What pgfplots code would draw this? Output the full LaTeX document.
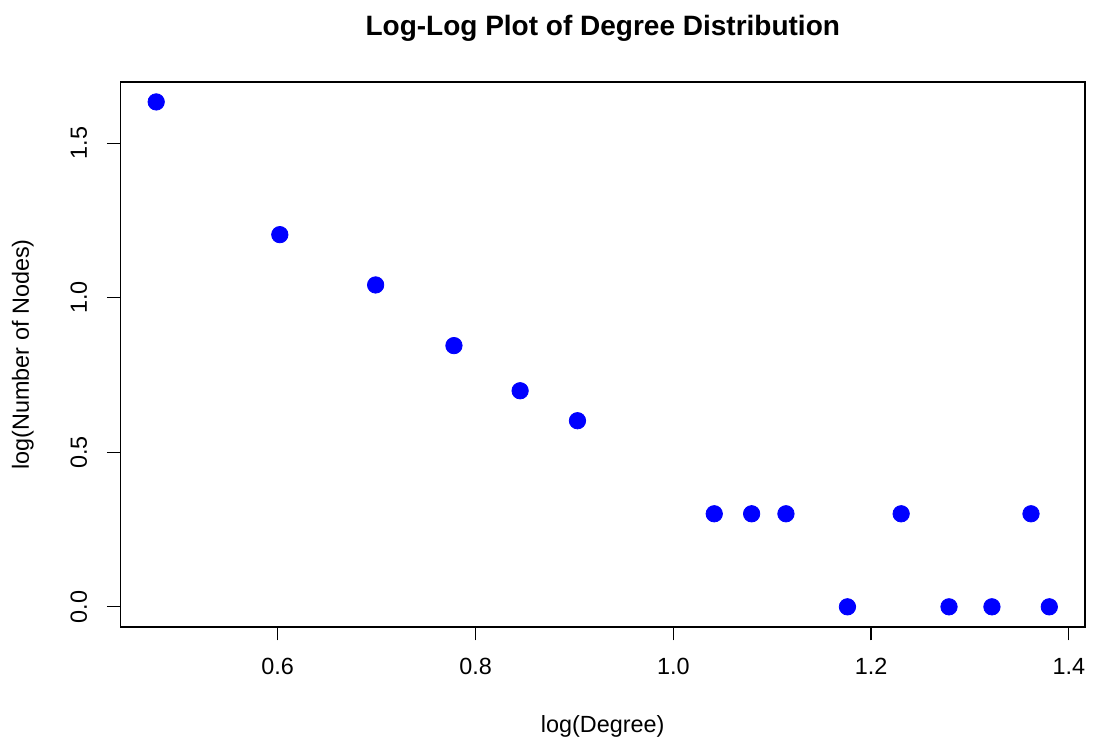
\documentclass[border=0pt]{standalone}
\usepackage{pgfplots}
\pgfplotsset{compat=1.18}
\usepackage{fontspec}
\setmainfont{Liberation Sans}
\begin{document}
\begin{tikzpicture}
\useasboundingbox (-60.25pt,-58.5pt) rectangle (486.75pt,313.5pt);
\begin{axis}[
  at={(0,0)}, anchor=south west,
  scale only axis, width=482.25pt, height=272.5pt,
  xmin=0.441, xmax=1.4163, ymin=-0.0653, ymax=1.698,
  axis line style={black, line width=0.6pt},
  tick style={black, line width=0.6pt},
  tick align=outside, major tick length=6.75pt,
  xtick pos=left, ytick pos=left,
  xtick={0.6,0.8,1.0,1.2,1.4},
  ytick={0,0.5,1.0,1.5},
  /pgf/number format/assume math mode=true,
  /pgf/number format/fixed, /pgf/number format/fixed zerofill,
  /pgf/number format/precision=1,
  ticklabel style={font=\fontsize{11.7}{14}\selectfont},
  xticklabel style={anchor=base, yshift=-17pt},
  yticklabel style={xshift=-10pt, rotate=90, anchor=base},
  clip=false,
]
\addplot[only marks, mark=*, mark size=4.1pt, blue, mark options={fill=blue, draw=blue}] coordinates {
  (0.4771,1.6335) (0.6021,1.2041) (0.6990,1.0414) (0.7782,0.8451)
  (0.8451,0.6990) (0.9031,0.6021) (1.0414,0.3010) (1.0792,0.3010)
  (1.1139,0.3010) (1.1761,0) (1.2304,0.3010) (1.2788,0)
  (1.3222,0) (1.3617,0.3010) (1.3802,0)
};
\node[anchor=base, font=\bfseries\fontsize{14}{17}\selectfont, yshift=23pt] at (rel axis cs:0.5,1) {Log-Log Plot of Degree Distribution};
\node[anchor=base, font=\fontsize{11.7}{14}\selectfont, yshift=-53pt] at (rel axis cs:0.5,0) {log(Degree)};
\node[xshift=-45.75pt, rotate=90, anchor=base, font=\fontsize{11.7}{14}\selectfont] at (rel axis cs:0,0.5) {log(Number of Nodes)};
\end{axis}
\end{tikzpicture}
\end{document}
